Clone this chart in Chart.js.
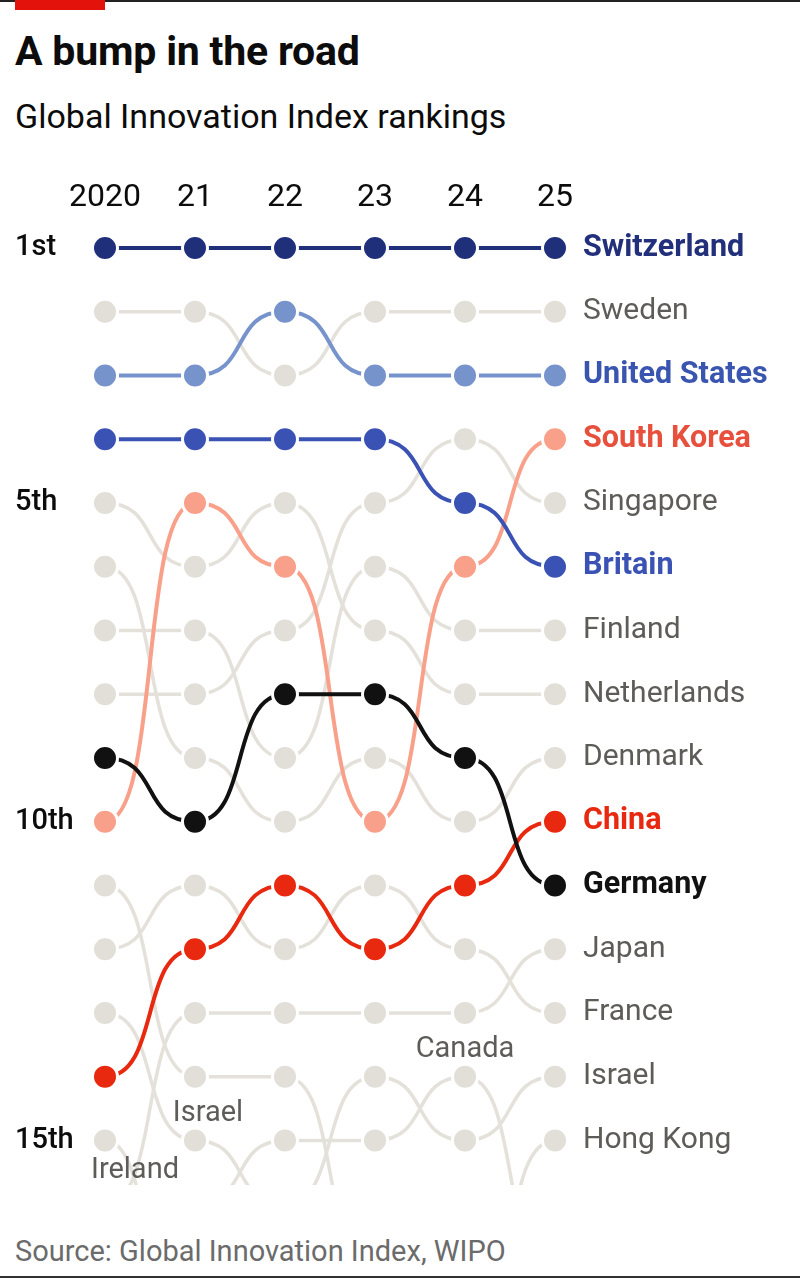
<!DOCTYPE html>
<html>
<head>
<meta charset="utf-8">
<script src="https://cdn.jsdelivr.net/npm/chart.js@4.4.1/dist/chart.umd.min.js"></script>
<style>
  body { margin: 0; width: 800px; height: 1278px; background: #fff; overflow: hidden; position: relative; font-family: Roboto, sans-serif; }
  .rule { position: absolute; left: 0; top: 0; width: 800px; height: 2px; background: #222; }
  .tag { position: absolute; left: 15px; top: 0; width: 90px; height: 10px; background: #e3120b; }
  .title { position: absolute; left: 15px; top: 31px; font-size: 41px; line-height: 40px; font-weight: 700; color: #0c0c0c; white-space: nowrap; letter-spacing: -0.2px; }
  .subtitle { position: absolute; left: 15px; top: 99px; font-size: 34px; line-height: 34px; color: #0c0c0c; white-space: nowrap; }
  .source { position: absolute; left: 15px; top: 1237px; font-size: 29px; line-height: 29px; color: #6b6b6b; white-space: nowrap; }
  .foot { position: absolute; left: 0; bottom: 0; width: 800px; height: 2px; background: #333; }
  #wrap { position: absolute; left: 0; top: 150px; width: 800px; height: 1060px; }
</style>
</head>
<body>
<div class="rule"></div>
<div class="tag"></div>
<div class="title">A bump in the road</div>
<div class="subtitle">Global Innovation Index rankings</div>
<div id="wrap"><canvas id="chartBump" width="800" height="1060"></canvas></div>
<div class="source">Source: Global Innovation Index, WIPO</div>
<div class="foot"></div>

<script>
// años y etiquetas
const years = ['2020', '21', '22', '23', '24', '25'];
const rankTicks = [1, 5, 10, 15];
const rankLabels = ['1st', '5th', '10th', '15th'];

// orden final (2025) para las etiquetas de la derecha
const order2025 = ['Switzerland', 'Sweden', 'United States', 'South Korea', 'Singapore', 'Britain',
  'Finland', 'Netherlands', 'Denmark', 'China', 'Germany', 'Japan', 'France', 'Israel', 'Hong Kong'];

// posiciones por año (null = fuera del top)
const switzerland  = [1, 1, 1, 1, 1, 1];
const unitedStates = [3, 3, 2, 3, 3, 3];
const britain      = [4, 4, 4, 4, 5, 6];
const southKorea   = [10, 5, 6, 10, 6, 4];
const germany      = [9, 10, 8, 8, 9, 11];
const china        = [14, 12, 11, 12, 11, 10];

const sweden       = [2, 2, 3, 2, 2, 2];
const singapore    = [8, 8, 7, 5, 4, 5];
const netherlands  = [5, 6, 5, 7, 8, 8];
const finland      = [7, 7, 9, 6, 7, 7];
const denmark      = [6, 9, 10, 9, 10, 9];
const france       = [12, 11, 12, 11, 12, 13];
const japan        = [16, 13, 13, 13, 13, 12];
const israel       = [13, 15, 16, 14, 15, 14];
const hongKong     = [11, 14, 14, 17, 18, 15];
const canada       = [null, 16, 15, 15, 14, 17];
const ireland      = [15, 19, null, null, null, null];

// países que salen del gráfico con su nombre escrito dentro
const exitLabels = ['Canada', 'Israel', 'Ireland'];

const GREY_DOT = '#e2dfd8';
const GREY_LINE = '#e4e1da';
const GREY_TEXT = '#5e5c58';

const highlight = {
  'Switzerland':   { dot: '#1f2f7a', text: '#22307c' },
  'United States': { dot: '#7793cc', text: '#3a55b0' },
  'Britain':       { dot: '#3a52b4', text: '#3a52b4' },
  'South Korea':   { dot: '#f9a08a', text: '#e8503e' },
  'China':         { dot: '#e8290f', text: '#e8290f' },
  'Germany':       { dot: '#111111', text: '#111111' }
};

function makeSet(name, data) {
  const h = highlight[name];
  const c = h ? h.dot : GREY_DOT;
  return {
    label: name,
    data: data,
    borderColor: h ? h.dot : GREY_LINE,
    borderWidth: h ? 4 : 3.5,
    backgroundColor: c,
    pointBackgroundColor: c,
    pointBorderColor: '#ffffff',
    pointBorderWidth: 3,
    pointRadius: 12.5,
    pointHoverRadius: 12.5,
    tension: 0.4,
    clip: { left: 20, top: 20, right: 20, bottom: 0 }
  };
}

// el primero se dibuja encima
const datasets = [
  makeSet('Germany', germany),
  makeSet('China', china),
  makeSet('Britain', britain),
  makeSet('South Korea', southKorea),
  makeSet('United States', unitedStates),
  makeSet('Switzerland', switzerland),
  makeSet('Sweden', sweden),
  makeSet('Singapore', singapore),
  makeSet('Netherlands', netherlands),
  makeSet('Finland', finland),
  makeSet('Denmark', denmark),
  makeSet('France', france),
  makeSet('Japan', japan),
  makeSet('Israel', israel),
  makeSet('Hong Kong', hongKong),
  makeSet('Canada', canada),
  makeSet('Ireland', ireland)
];

// curvas tipo "bump": tangentes horizontales en cada punto
const K = 0.62;
const bumpCurves = {
  id: 'bumpCurves',
  beforeDatasetDraw(chart, args) {
    const meta = args.meta;
    const line = meta.dataset;
    if (!line) return;
    line.updateControlPoints(chart.chartArea, 'x');
    const pts = meta.data;
    for (let i = 0; i < pts.length; i++) {
      const p = pts[i];
      const prev = pts[i - 1];
      const next = pts[i + 1];
      const dPrev = prev ? (p.x - prev.x) * K : 0;
      const dNext = next ? (next.x - p.x) * K : 0;
      p.cp1x = p.x - dPrev; p.cp1y = p.y;
      p.cp2x = p.x + dNext; p.cp2y = p.y;
    }
  }
};

// nombres de los que salen por abajo
const exitNames = {
  id: 'exitNames',
  afterDatasetsDraw(chart) {
    const ctx = chart.ctx;
    const xs = chart.scales.x;
    const ys = chart.scales.y;
    const place = {
      'Canada':  { yr: 4, dx: 0,  dy: -27 },
      'Israel':  { yr: 1, dx: 13, dy: -27 },
      'Ireland': { yr: 0, dx: 30, dy: 30 }
    };
    ctx.save();
    ctx.font = '29px Roboto';
    ctx.fillStyle = GREY_TEXT;
    ctx.textAlign = 'center';
    ctx.textBaseline = 'middle';
    exitLabels.forEach(function(name) {
      const ds = datasets.find(d => d.label === name);
      const p = place[name];
      const x = xs.getPixelForValue(p.yr) + p.dx;
      const y = ys.getPixelForValue(ds.data[p.yr]) + p.dy;
      ctx.fillText(name, x, y);
    });
    ctx.restore();
  }
};

function nameAt(c) {
  if (c && c.tick) return order2025[c.tick.value - 1];
  if (c && typeof c.index === 'number') return order2025[c.index];
  return null;
}

// sin relleno extra arriba/abajo por las etiquetas
function noPad(s) { s.paddingTop = 0; s.paddingBottom = 0; }

const ctx = document.getElementById('chartBump').getContext('2d');
new Chart(ctx, {
  type: 'line',
  data: { labels: years, datasets: datasets },
  plugins: [bumpCurves, exitNames],
  options: {
    responsive: false,
    animation: false,
    events: [],
    layout: { padding: { top: 0, left: 15, right: 0, bottom: 25 } },
    plugins: { legend: { display: false }, tooltip: { enabled: false } },
    scales: {
      x: {
        type: 'category',
        position: 'top',
        offset: false,
        grid: { display: false, drawTicks: false },
        border: { display: false },
        afterFit: function(s) { s.height = 98; },
        ticks: {
          padding: 31,
          maxRotation: 0,
          autoSkip: false,
          color: '#0c0c0c',
          font: { family: 'Roboto', size: 32 }
        }
      },
      y: {
        position: 'left',
        reverse: true,
        min: 1,
        max: 15.7,
        grid: { display: false, drawTicks: false },
        border: { display: false },
        afterFit: function(s) { s.width = 90; noPad(s); },
        afterBuildTicks: function(s) { s.ticks = rankTicks.map(v => ({ value: v })); },
        ticks: {
          crossAlign: 'far',
          color: '#0c0c0c',
          font: { family: 'Roboto', size: 29, weight: '500' },
          callback: function(value) {
            const i = rankTicks.indexOf(value);
            return i >= 0 ? rankLabels[i] : '';
          }
        }
      },
      y2: {
        position: 'right',
        reverse: true,
        min: 1,
        max: 15.7,
        grid: { display: false, drawTicks: false },
        border: { display: false },
        afterFit: function(s) { s.width = 245; noPad(s); },
        afterBuildTicks: function(s) { s.ticks = order2025.map((n, i) => ({ value: i + 1 })); },
        ticks: {
          padding: 28,
          crossAlign: 'near',
          color: function(c) {
            const n = nameAt(c);
            return n && highlight[n] ? highlight[n].text : GREY_TEXT;
          },
          font: function(c) {
            const n = nameAt(c);
            return highlight[n]
              ? { family: 'Roboto', size: 30.5, weight: 'bold' }
              : { family: 'Roboto', size: 30, weight: 'normal' };
          },
          callback: function(value) { return order2025[value - 1]; }
        }
      }
    }
  }
});
</script>
</body>
</html>
